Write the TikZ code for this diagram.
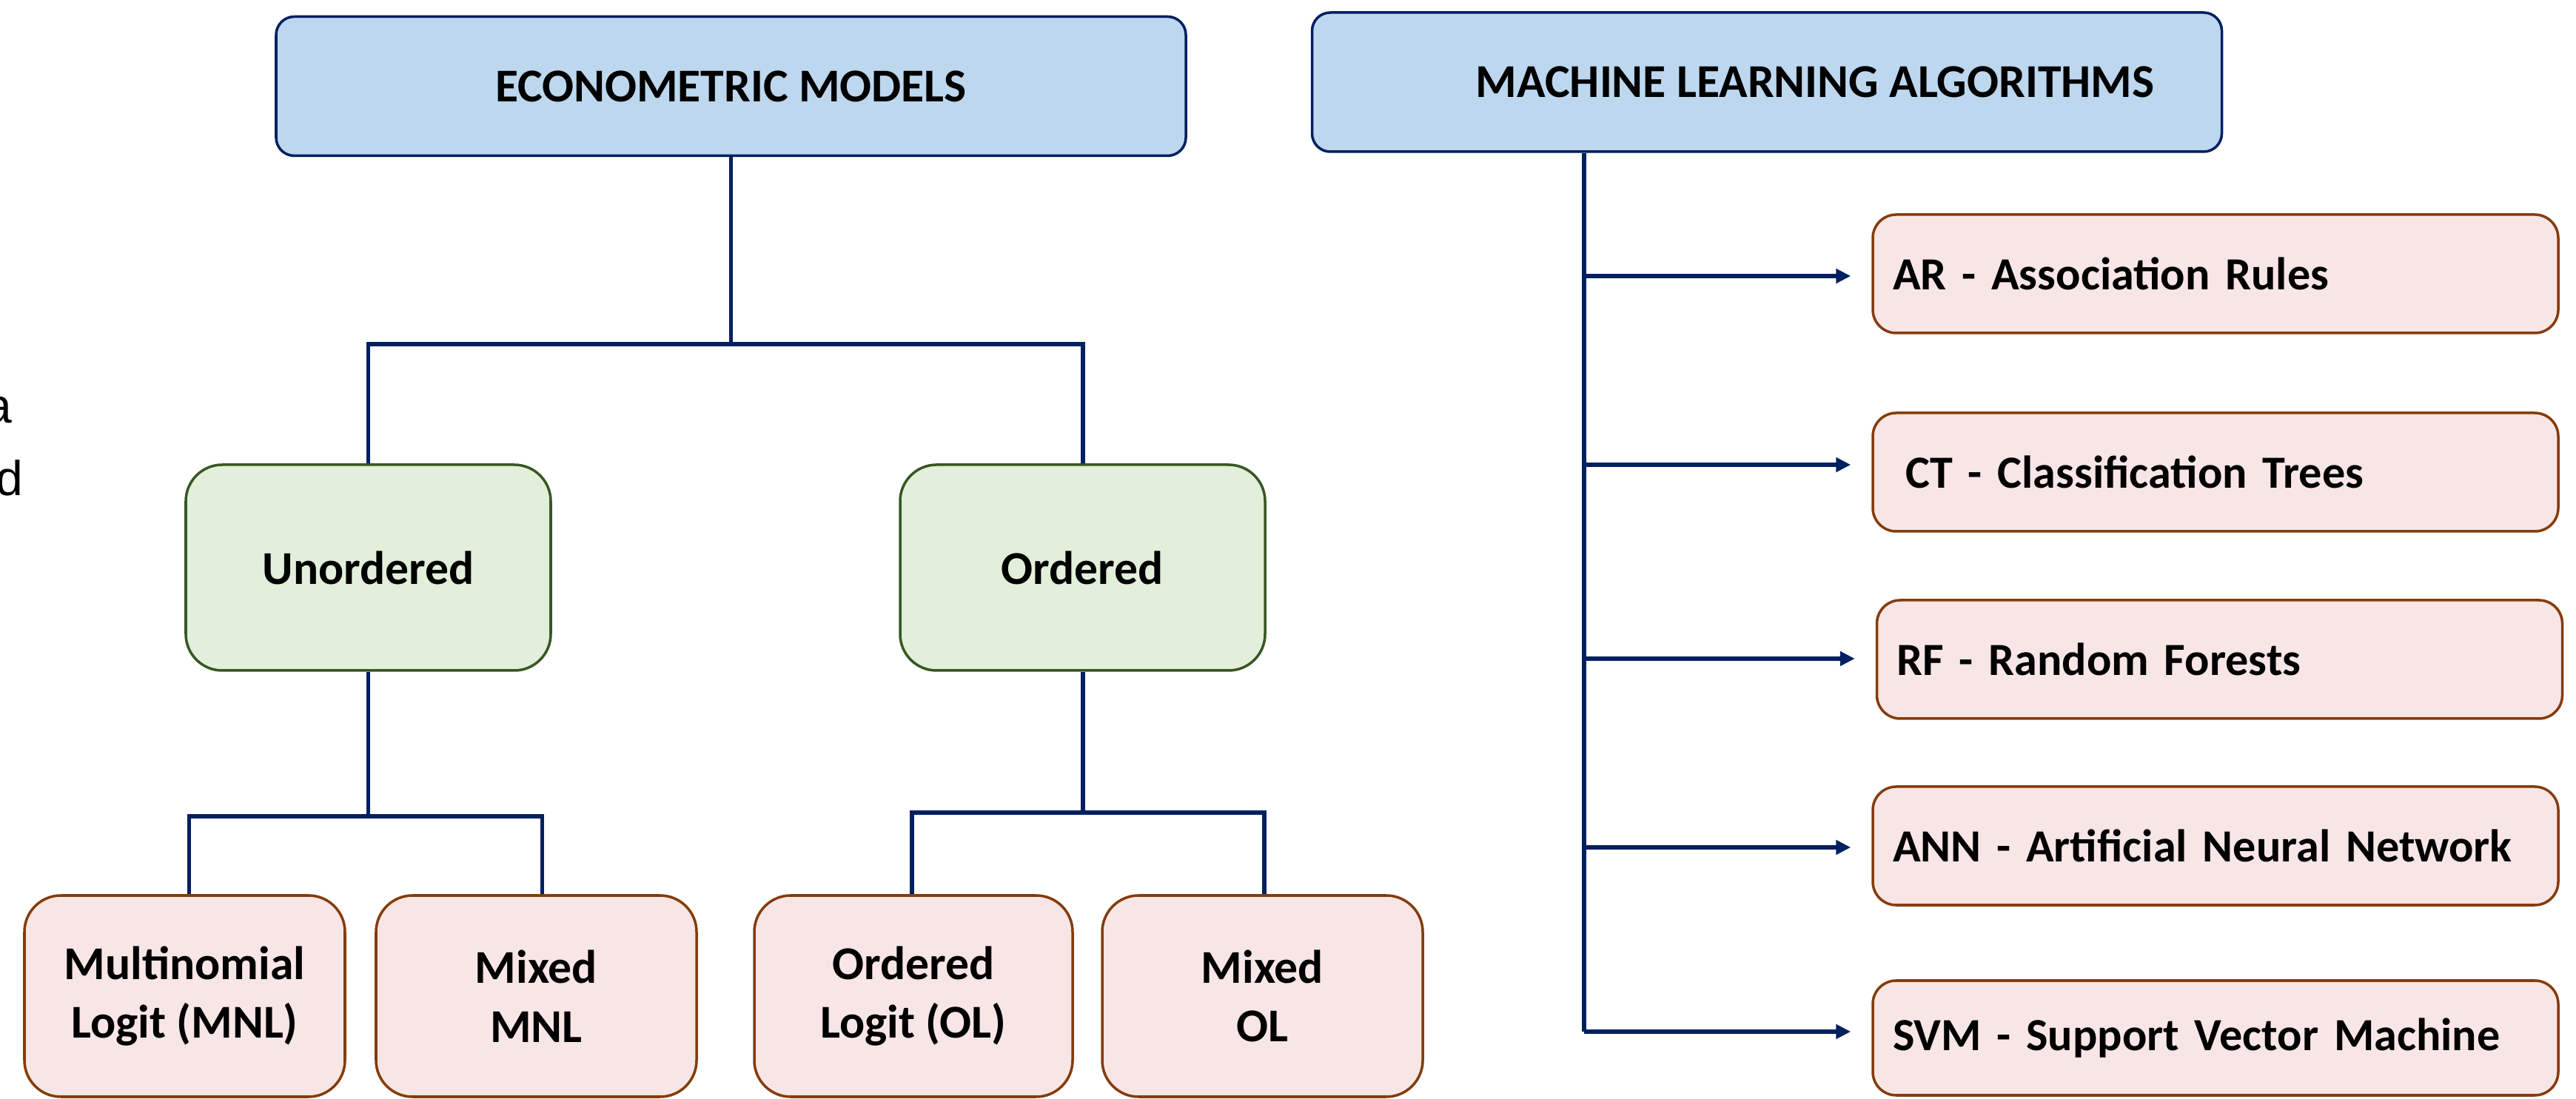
\documentclass[tikz,border=0pt]{standalone}
\usepackage{fontspec}
\setmainfont{Carlito}
\newfontfamily\leftfont{Liberation Sans}
\definecolor{topfill}{HTML}{BDD7EE}
\definecolor{navy}{HTML}{002060}
\definecolor{greenfill}{HTML}{E2EFDA}
\definecolor{greenline}{HTML}{385723}
\definecolor{pinkfill}{HTML}{F8E6E6}
\definecolor{brownline}{HTML}{843C0C}
\usetikzlibrary{arrows.meta, positioning, calc}

\begin{document}
\begin{tikzpicture}[
    every node/.style={font=\fontsize{18.1}{22.6}\selectfont\bfseries},
    topbox/.style={rounded corners=7pt, draw=navy, line width=1pt, fill=topfill,
                   minimum width=12.29cm, minimum height=1.88cm},
    groupbox/.style={rounded corners=14pt, draw=greenline, line width=1pt, fill=greenfill,
                     minimum width=4.93cm, minimum height=2.78cm, align=center},
    leafbox/.style={rounded corners=14pt, draw=brownline, line width=1pt, fill=pinkfill,
                    minimum width=4.33cm, minimum height=2.72cm, align=center},
    algobox/.style={rounded corners=9pt, draw=brownline, line width=1pt, fill=pinkfill,
                    minimum height=1.60cm, text width=8.72cm, inner xsep=0.27cm, align=left,
                    font=\fontsize{17.7}{22}\selectfont\bfseries},
    cutletter/.style={anchor=base east, inner sep=0pt, font=\fontsize{18.8}{22}\selectfont\leftfont},
    link/.style={draw=navy, line width=1.7pt},
    algolink/.style={link, -{Triangle[length=0.2cm, width=0.19cm]}, shorten >=0.28cm}
]
\useasboundingbox (0,0) rectangle (34.8,-14.85);

\node[cutletter] (cuta) at (0.17,-5.72) {a};
\node[cutletter] (cutd) at (0.32,-6.70) {d};

\node[topbox] (econ) at (9.875,-1.165) {ECONOMETRIC MODELS};
\node[topbox] (ml) at (23.87,-1.11) {};
\node (mltext) at ([xshift=0.65cm]ml.center) {MACHINE LEARNING ALGORITHMS};

\node[groupbox] (unord) at (4.975,-7.67) {Unordered};
\node[groupbox] (ord) at (14.625,-7.67) {Ordered};

\node[leafbox] (mnl) at (2.495,-13.46) {Multinomial\\Logit (MNL)};
\node[leafbox] (mmnl) at (7.245,-13.46) {Mixed\\MNL};
\node[leafbox, minimum width=4.30cm] (ol) at (12.34,-13.46) {Ordered\\Logit (OL)};
\node[leafbox] (mol) at (17.055,-13.46) {Mixed\\OL};

\node[algobox] (ar) at (29.93,-3.70) {AR - Association Rules};
\node[algobox] (ct) at (29.93,-6.38) {\hspace*{0.17cm}CT - Classification Trees};
\node[algobox] (rf) at (29.985,-8.91) {RF - Random Forests};
\node[algobox] (ann) at (29.93,-11.43) {ANN - Artificial Neural Network};
\node[algobox, minimum height=1.55cm] (svm) at (29.93,-14.025) {SVM - Support Vector Machine};

\draw[link] (econ.south) -- ++(0,-2.53) coordinate (econj);
\draw[link] (unord.north) |- (econj) -| (ord.north);

\draw[link] (unord.south) -- ++(0,-1.95) coordinate (unordj);
\draw[link] ([xshift=0.06cm]mnl.north) |- (unordj) -| ([xshift=0.08cm]mmnl.north);

\draw[link] (ord.south) -- ++(0,-1.90) coordinate (ordj);
\draw[link] ([xshift=-0.02cm]ol.north) |- (ordj) -| ([xshift=0.02cm]mol.north);

\coordinate (mlt) at ($(ml.south west)+(3.69,0)$);
\draw[link] (mlt) -- (mlt |- 0,-13.94);
\foreach \alg/\y in {ar/-3.73, ct/-6.28, rf/-8.90, ann/-11.45, svm/-13.94}
  \draw[algolink] (mlt |- 0,\y) -- (\alg.west |- 0,\y);
\end{tikzpicture}
\end{document}
